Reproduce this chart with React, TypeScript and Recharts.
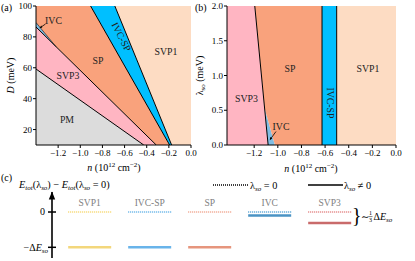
import React from 'react';
import { ComposedChart, Area, Line, XAxis, YAxis, ReferenceLine, Scatter } from 'recharts';

const FONT = '"Liberation Serif", "DejaVu Serif", serif';

// ---------- Panel (a): D (meV) vs n ----------
const aDomainN = [-1.4, 0];
const aDomainD = [10, 100];
const aTicksN = [-1.2, -1.0, -0.8, -0.6, -0.4, -0.2, 0.0];
const aTicksD = [20, 40, 60, 80, 100];

// phase regions: n -> [D low, D high]
const aPM = [{ n: -1.4, v: [10, 59.2] }, { n: -0.427, v: [10, 10] }];
const aSVP3 = [{ n: -1.4, v: [59.2, 86.4] }, { n: -0.427, v: [10, 17.9] }, { n: -0.314, v: [10, 10] }];
const aIVC = [{ n: -1.4, v: [86.4, 89.3] }, { n: -1.22, v: [73.7, 73.7] }];
const aSP = [
  { n: -1.4, v: [89.3, 100] },
  { n: -1.22, v: [73.7, 100] },
  { n: -0.907, v: [51.7, 100] },
  { n: -0.314, v: [10, 25.3] },
  { n: -0.193, v: [10, 10] },
];
const aIVCSP = [
  { n: -0.907, v: [100, 100] },
  { n: -0.688, v: [72.4, 100] },
  { n: -0.193, v: [10, 13.2] },
  { n: -0.175, v: [10, 10] },
];
const aSVP1 = [{ n: -0.688, v: [100, 100] }, { n: -0.175, v: [10, 100] }, { n: 0, v: [10, 100] }];

// phase boundaries
const aLinePM = [{ n: -1.4, D: 59.2 }, { n: -0.427, D: 10 }];
const aLineSVP3 = [{ n: -1.4, D: 86.4 }, { n: -0.314, D: 10 }];
const aLineIVC = [{ n: -1.4, D: 89.3 }, { n: -1.22, D: 73.7 }];
const aLineSP = [{ n: -0.907, D: 100 }, { n: -0.193, D: 10 }];
const aLineIVCSP = [{ n: -0.688, D: 100 }, { n: -0.175, D: 10 }];

// ---------- Panel (b): lambda_so (meV) vs n ----------
const bDomainN = [-1.43, 0];
const bDomainL = [0, 2];
const bTicksN = [-1.2, -1.0, -0.8, -0.6, -0.4, -0.2, 0.0];
const bTicksL = [0, 0.5, 1.0, 1.5, 2.0];

const bSVP3 = [{ n: -1.43, v: [0, 2] }, { n: -1.195, v: [0, 2] }, { n: -1.082, v: [0, 0] }];
const bIVC = [{ n: -1.112, v: [0.53, 0.53] }, { n: -1.082, v: [0, 0.35] }, { n: -1.025, v: [0, 0] }];
const bSP = [
  { n: -1.195, v: [2, 2] },
  { n: -1.112, v: [0.53, 2] },
  { n: -1.082, v: [0.35, 2] },
  { n: -1.025, v: [0, 2] },
  { n: -0.626, v: [0, 2] },
];
const bIVCSP = [{ n: -0.626, v: [0, 2] }, { n: -0.502, v: [0, 2] }];
const bSVP1 = [{ n: -0.502, v: [0, 2] }, { n: 0, v: [0, 2] }];
const bLineSVP3 = [{ n: -1.195, L: 2 }, { n: -1.082, L: 0 }];
const bWalls = [-0.626, -0.502];

// ---------- Panel (c): energy levels ----------
const cPhases = ['SVP1', 'IVC-SP', 'SP', 'IVC', 'SVP3'];
const cLevelZero = [0, 0, 0, 0, 0]; // lambda_so = 0
const cLevelSO = [-1, -1, -1, -0.1, -0.31]; // lambda_so != 0, in units of Delta E_so
const cTicks = [0, -1];

// ---------- styles ----------
const COL = {
  SVP1: '#FDDCC3',
  SP: '#F9A27C',
  IVCSP: '#00BFFF',
  SVP3: '#FFB5C2',
  PM: '#DCDCDC',
  IVC: '#80BDE3',
};
const dotColors: Record<string, string> = {
  SVP1: '#F6D567',
  'IVC-SP': '#5AAEE6',
  SP: '#EFA088',
  IVC: '#4A9AD0',
  SVP3: '#E07A7A',
};
const solidColors: Record<string, string> = {
  SVP1: '#F3D77C',
  'IVC-SP': '#69B4EA',
  SP: '#E6957D',
  IVC: '#4A93C4',
  SVP3: '#C96B6B',
};

const fmt1 = (v: number) => {
  const s = Math.abs(v) < 1e-9 ? '0.0' : v.toFixed(1);
  return s.replace('-', '\u2212');
};

const tickStyle = { fontFamily: FONT, fontSize: 9, fill: '#000' };

const region = (data: any[], fill: string, key: string) => (
  <Area
    key={key}
    data={data}
    dataKey="v"
    type="linear"
    stroke="none"
    fill={fill}
    fillOpacity={1}
    isAnimationActive={false}
    dot={false}
    activeDot={false}
  />
);

const boundary = (data: any[], key: string, dk: string, w = 1) => (
  <Line
    key={key}
    data={data}
    dataKey={dk}
    type="linear"
    stroke="#000"
    strokeWidth={w}
    dot={false}
    activeDot={false}
    isAnimationActive={false}
  />
);

function PanelA() {
  return (
    <ComposedChart width={200} height={175} margin={{ top: 6, right: 9, bottom: 0, left: 0 }}>
      <XAxis
        type="number"
        dataKey="n"
        domain={aDomainN}
        ticks={aTicksN}
        tickFormatter={fmt1}
        allowDataOverflow
        height={30}
        tickSize={3}
        tickMargin={2}
        tick={tickStyle}
        stroke="#000"
        interval={0}
      />
      <YAxis
        type="number"
        domain={aDomainD}
        ticks={aTicksD}
        allowDataOverflow
        width={36}
        tickSize={3}
        tickMargin={1}
        tick={tickStyle}
        stroke="#000"
        interval={0}
      />
      {region(aPM, COL.PM, 'pm')}
      {region(aSVP3, COL.SVP3, 'svp3')}
      {region(aIVC, COL.IVC, 'ivc')}
      {region(aSP, COL.SP, 'sp')}
      {region(aIVCSP, COL.IVCSP, 'ivcsp')}
      {region(aSVP1, COL.SVP1, 'svp1')}
      {boundary(aLinePM, 'l1', 'D')}
      {boundary(aLineSVP3, 'l2', 'D')}
      {boundary(aLineIVC, 'l2b', 'D', 0.6)}
      {boundary(aLineSP, 'l3', 'D')}
      {boundary(aLineIVCSP, 'l4', 'D')}
      <XAxis xAxisId="top" orientation="top" type="number" domain={aDomainN} height={0} tick={false} tickLine={false} stroke="#000" />
      <YAxis yAxisId="right" orientation="right" type="number" domain={aDomainD} width={0} tick={false} tickLine={false} stroke="#000" />
    </ComposedChart>
  );
}

function PanelB() {
  return (
    <ComposedChart width={215} height={175} margin={{ top: 6, right: 19, bottom: 0, left: 0 }}>
      <XAxis
        type="number"
        dataKey="n"
        domain={bDomainN}
        ticks={bTicksN}
        tickFormatter={fmt1}
        allowDataOverflow
        height={30}
        tickSize={3}
        tickMargin={2}
        tick={tickStyle}
        stroke="#000"
        interval={0}
      />
      <YAxis
        type="number"
        domain={bDomainL}
        ticks={bTicksL}
        tickFormatter={fmt1}
        allowDataOverflow
        width={27}
        tickSize={3}
        tickMargin={1}
        tick={tickStyle}
        stroke="#000"
        interval={0}
      />
      {region(bSVP3, COL.SVP3, 'svp3')}
      {region(bIVC, COL.IVC, 'ivc')}
      {region(bSP, COL.SP, 'sp')}
      {region(bIVCSP, COL.IVCSP, 'ivcsp')}
      {region(bSVP1, COL.SVP1, 'svp1')}
      {boundary(bLineSVP3, 'lb', 'L')}
      {bWalls.map((x) => (
        <ReferenceLine key={x} x={x} stroke="#000" strokeWidth={1} ifOverflow="extendDomain" />
      ))}
      <XAxis xAxisId="top" orientation="top" type="number" domain={bDomainN} height={0} tick={false} tickLine={false} stroke="#000" />
      <YAxis yAxisId="right" orientation="right" type="number" domain={bDomainL} width={0} tick={false} tickLine={false} stroke="#000" />
    </ComposedChart>
  );
}

const cRows = cPhases.map((name, i) => ({ x: i, name, zero: cLevelZero[i], so: cLevelSO[i] }));

const HALF = 21.5;

const DotLevel = (p: any) => {
  const { cx, cy, payload } = p;
  if (cx == null || cy == null) return null;
  return (
    <g>
      <line x1={cx - HALF} x2={cx + HALF} y1={cy} y2={cy} stroke={dotColors[payload.name]} strokeWidth={1.4} strokeDasharray="1 1" />
      <text x={cx} y={cy - 6} textAnchor="middle" fontFamily={FONT} fontSize={9.5} fill="#808080">
        {payload.name}
      </text>
    </g>
  );
};

const SolidLevel = (p: any) => {
  const { cx, cy, payload } = p;
  if (cx == null || cy == null) return null;
  return <line x1={cx - HALF} x2={cx + HALF} y1={cy} y2={cy} stroke={solidColors[payload.name]} strokeWidth={2.4} />;
};

const CTick = (p: any) => {
  const { x, y, payload } = p;
  return (
    <g>
      <line x1={x - 4} x2={x + 4} y1={y} y2={y} stroke="#000" strokeWidth={1.5} />
      {payload.value === 0 ? (
        <text x={x - 7} y={y + 3.2} textAnchor="end" fontFamily={FONT} fontSize={10} fill="#000">
          0
        </text>
      ) : (
        <text x={x - 4} y={y + 3.2} textAnchor="end" fontFamily={FONT} fontSize={10} fill="#000">
          {'\u2212\u0394'}
          <tspan fontStyle="italic">E</tspan>
          <tspan fontSize={7} fontStyle="italic" dy={2}>
            so
          </tspan>
        </text>
      )}
    </g>
  );
};

function PanelC() {
  return (
    <ComposedChart width={415} height={101} data={cRows} margin={{ top: 32, right: 15, bottom: 3, left: 0 }}>
      <XAxis type="number" dataKey="x" domain={[-0.628, 5.172]} hide allowDataOverflow />
      <YAxis
        type="number"
        domain={[-1.303, 0.567]}
        ticks={cTicks}
        allowDataOverflow
        width={52}
        tickLine={false}
        tickSize={0}
        tickMargin={0}
        tick={<CTick />}
        axisLine={{ stroke: '#000', strokeWidth: 1.6 }}
        interval={0}
      />
      <Scatter dataKey="zero" shape={<DotLevel />} isAnimationActive={false} />
      <Scatter dataKey="so" shape={<SolidLevel />} isAnimationActive={false} />
    </ComposedChart>
  );
}

function Overlay() {
  const t = { fontFamily: FONT, fill: '#000' } as any;
  const lab = { fontFamily: FONT, fill: '#222', fontSize: 9.8, textAnchor: 'middle' } as any;
  return (
    <svg width={415} height={261} style={{ position: 'absolute', left: 0, top: 0, pointerEvents: 'none' }}>
      {/* panel letters */}
      <text x={1} y={11} fontSize={10} {...t}>(a)</text>
      <text x={195} y={11} fontSize={10} {...t}>(b)</text>
      <text x={1} y={181} fontSize={10} {...t}>(c)</text>

      {/* axis titles */}
      <text transform="translate(14,75.5) rotate(-90)" textAnchor="middle" fontSize={10} {...t}>
        <tspan fontStyle="italic">D</tspan> (meV)
      </text>
      <text transform="translate(203,75.5) rotate(-90)" textAnchor="middle" fontSize={10} {...t}>
        <tspan>{'\u03BB'}</tspan>
        <tspan fontSize={7} dy={2}>so</tspan>
        <tspan dy={-2}> (meV)</tspan>
      </text>
      <text x={114} y={171} textAnchor="middle" fontSize={10} {...t}>
        <tspan fontStyle="italic">n</tspan> (10<tspan fontSize={7} dy={-4}>12</tspan>
        <tspan dy={4}> cm</tspan>
        <tspan fontSize={7} dy={-4}>{'\u22122'}</tspan>
        <tspan dy={4}>)</tspan>
      </text>
      <text x={311} y={172} textAnchor="middle" fontSize={10} {...t}>
        <tspan fontStyle="italic">n</tspan> (10<tspan fontSize={7} dy={-4}>12</tspan>
        <tspan dy={4}> cm</tspan>
        <tspan fontSize={7} dy={-4}>{'\u22122'}</tspan>
        <tspan dy={4}>)</tspan>
      </text>

      {/* region labels (a) */}
      <text x={166} y={55} {...lab}>SVP1</text>
      <text x={98} y={64} {...lab}>SP</text>
      <text x={68} y={78.5} {...lab}>SVP3</text>
      <text x={67} y={122.5} {...lab}>PM</text>
      <text transform="translate(121,37) rotate(63)" dy={3} {...lab}>IVC-SP</text>
      <text x={53.5} y={24} {...lab}>IVC</text>
      <line x1={45.5} y1={24} x2={40.5} y2={27.5} stroke="#000" strokeWidth={0.8} />
      <polygon points="39.5,28.2 41.2,25.6 42.3,27.4" fill="#000" />

      {/* region labels (b) */}
      <text x={290} y={72} {...lab}>SP</text>
      <text x={368} y={72} {...lab}>SVP1</text>
      <text x={246.5} y={102} {...lab}>SVP3</text>
      <text transform="translate(330,103) rotate(90)" dy={3} {...lab}>IVC-SP</text>
      <text x={281} y={130} {...lab}>IVC</text>
      <line x1={276} y1={131.5} x2={270.5} y2={139} stroke="#000" strokeWidth={0.8} />
      <polygon points="269.8,140.2 270.2,137 272.2,138.5" fill="#000" />

      {/* panel (c) title */}
      <text x={19} y={188} fontSize={10.3} {...t}>
        <tspan fontStyle="italic">E</tspan>
        <tspan fontSize={7} fontStyle="italic" dy={2}>tot</tspan>
        <tspan dy={-2}>({'\u03BB'}</tspan>
        <tspan fontSize={7} fontStyle="italic" dy={2}>so</tspan>
        <tspan dy={-2}>) {'\u2212'} </tspan>
        <tspan fontStyle="italic">E</tspan>
        <tspan fontSize={7} fontStyle="italic" dy={2}>tot</tspan>
        <tspan dy={-2}>({'\u03BB'}</tspan>
        <tspan fontSize={7} fontStyle="italic" dy={2}>so</tspan>
        <tspan dy={-2}> = 0)</tspan>
      </text>
      {/* arrow head of energy axis */}
      <polygon points="52,191.5 48.8,199.5 55.2,199.5" fill="#000" />

      {/* legend */}
      <line x1={213} x2={249} y1={185} y2={185} stroke="#000" strokeWidth={1.5} strokeDasharray="1 1" />
      <text x={250} y={188.5} fontSize={10.3} {...t}>
        {'\u03BB'}
        <tspan fontSize={7} fontStyle="italic" dy={2}>so</tspan>
        <tspan dy={-2}> = 0</tspan>
      </text>
      <line x1={308} x2={343} y1={185} y2={185} stroke="#000" strokeWidth={1.6} />
      <text x={344} y={188.5} fontSize={10.3} {...t}>
        {'\u03BB'}
        <tspan fontSize={7} fontStyle="italic" dy={2}>so</tspan>
        <tspan dy={-2}> {'\u2260'} 0</tspan>
      </text>

      {/* brace */}
      <text x={352} y={221.5} fontSize={20} {...t}>{'}'}</text>
      <text x={361} y={220} fontSize={10} {...t}>{'\u223C'}</text>
      <text x={370.5} y={215} fontSize={6} textAnchor="middle" {...t}>1</text>
      <line x1={368.5} x2={372.5} y1={216.6} y2={216.6} stroke="#000" strokeWidth={0.5} />
      <text x={370.5} y={222} fontSize={6} textAnchor="middle" {...t}>3</text>
      <text x={373.5} y={220} fontSize={10} {...t}>
        {'\u0394'}
        <tspan fontStyle="italic">E</tspan>
        <tspan fontSize={7} fontStyle="italic" dy={2}>so</tspan>
      </text>
    </svg>
  );
}

export default function App() {
  return (
    <div style={{ position: 'absolute', left: 0, top: 0, width: 415, height: 261, background: '#fff', fontFamily: FONT }}>
      <div style={{ position: 'absolute', left: 0, top: 0 }}>
        <PanelA />
      </div>
      <div style={{ position: 'absolute', left: 200, top: 0 }}>
        <PanelB />
      </div>
      <div style={{ position: 'absolute', left: 0, top: 160 }}>
        <PanelC />
      </div>
      <Overlay />
    </div>
  );
}
